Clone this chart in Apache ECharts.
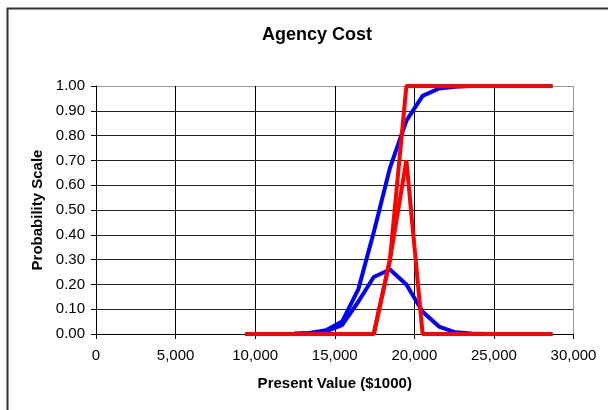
<!DOCTYPE html>
<html>
<head>
<meta charset="utf-8">
<script src="https://cdn.jsdelivr.net/npm/echarts@6/dist/echarts.min.js"></script>
<style>
  html, body { margin: 0; padding: 0; background: #fff; }
  #chart { width: 608px; height: 410px; }
</style>
</head>
<body>
<div id="chart"></div>
<script>
// present value points ($1000)
var xValues = [9370, 10390, 11400, 12420, 13430, 14450, 15460, 16480, 17450, 18470,
               19500, 20520, 21550, 22570, 23580, 24600, 25610, 26630, 27640, 28680];
// blue: cumulative and density
var blueCdf = [0, 0, 0, 0.001, 0.004, 0.015, 0.05, 0.18, 0.41, 0.67,
               0.86, 0.96, 0.99, 0.997, 1.0, 1.0, 1.0, 1.0, 1.0, 1.0];
var bluePdf = [0, 0, 0, 0.001, 0.003, 0.011, 0.036, 0.13, 0.23, 0.26,
               0.20, 0.09, 0.03, 0.007, 0.002, 0, 0, 0, 0, 0];
// red: cumulative and density
var redCdf = [0, 0, 0, 0, 0, 0, 0, 0, 0, 0.30,
              1.0, 1.0, 1.0, 1.0, 1.0, 1.0, 1.0, 1.0, 1.0, 1.0];
var redPdf = [0, 0, 0, 0, 0, 0, 0, 0, 0, 0.30,
              0.70, 0, 0, 0, 0, 0, 0, 0, 0, 0];

function pairs(ys) {
  var out = [];
  for (var i = 0; i < xValues.length; i++) {
    out.push([xValues[i], ys[i]]);
  }
  return out;
}

var chart = echarts.init(document.getElementById("chart"));

var font = "Liberation Sans, Arial, sans-serif";

function line(name, color, ys) {
  return {
    name: name,
    type: "line",
    data: pairs(ys),
    symbol: "none",
    lineStyle: { color: color, width: 4 },
    animation: false
  };
}

var option = {
  backgroundColor: "#fff",
  title: {
    text: "Agency Cost",
    left: 312,
    top: 21,
    textAlign: "center",
    textStyle: { fontFamily: font, fontSize: 18, fontWeight: "bold", color: "#000" }
  },
  graphic: [
    {
      type: "rect",
      shape: { x: 7.5, y: 8.5, width: 700, height: 500 },
      style: { fill: "none", stroke: "#333", lineWidth: 2 },
      silent: true
    }
  ],
  grid: { left: 96, right: 34.5, top: 86, bottom: 76 },
  xAxis: {
    type: "value",
    min: 0,
    max: 30000,
    interval: 5000,
    name: "Present Value ($1000)",
    nameLocation: "middle",
    nameGap: 42,
    nameTextStyle: { fontFamily: font, fontSize: 15, fontWeight: "bold", color: "#000" },
    axisLine: { show: true, onZero: false, lineStyle: { color: "#000", width: 1 } },
    axisTick: { show: true, length: 5, lineStyle: { color: "#000" } },
    axisLabel: {
      fontFamily: font, fontSize: 15, color: "#000", margin: 14,
      formatter: function (v) { return v.toLocaleString("en-US"); }
    },
    splitLine: {
      show: true,
      lineStyle: { color: ["#000", "#000", "#000", "#000", "#000", "#000", "#999"], width: 1 }
    }
  },
  yAxis: {
    type: "value",
    min: 0,
    max: 1,
    interval: 0.1,
    name: "Probability Scale",
    nameLocation: "middle",
    nameGap: 50,
    nameTextStyle: { fontFamily: font, fontSize: 15, fontWeight: "bold", color: "#000" },
    axisLine: { show: true, lineStyle: { color: "#000", width: 1 } },
    axisTick: { show: true, length: 5, lineStyle: { color: "#000" } },
    axisLabel: {
      fontFamily: font, fontSize: 15, color: "#000", margin: 11,
      formatter: function (v) { return v.toFixed(2); }
    },
    splitLine: {
      show: true,
      lineStyle: {
        color: ["#222", "#222", "#222", "#222", "#222", "#222", "#222", "#222", "#222", "#222", "#999"],
        width: 1
      }
    }
  },
  series: [
    line("Blue cumulative", "#0000ff", blueCdf),
    line("Blue density", "#0000ff", bluePdf),
    line("Red cumulative", "#ff0000", redCdf),
    line("Red density", "#ff0000", redPdf)
  ]
};

chart.setOption(option);
</script>
</body>
</html>
